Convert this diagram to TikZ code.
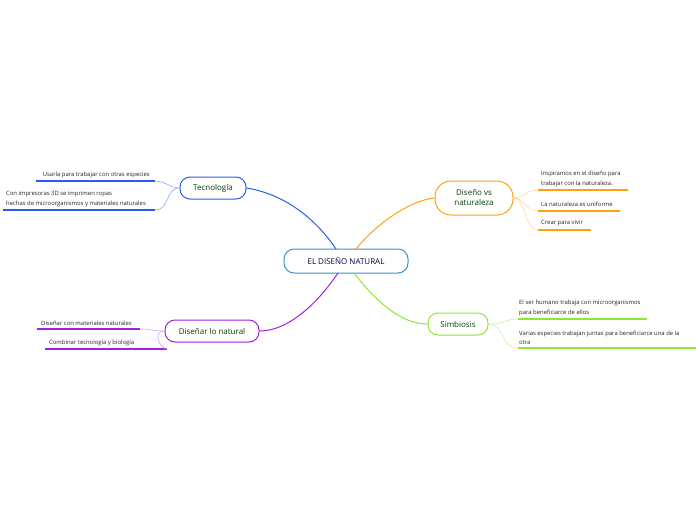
\documentclass[tikz,border=0pt]{standalone}
\usepackage{fontspec}
\setmainfont{Open Sans}
\begin{document}
\begin{tikzpicture}[x=1pt,y=-1pt,
 main/.style={draw,rounded corners=10pt,line width=1pt,fill=white,text=green!25!black,font=\fontsize{8}{10}\selectfont,align=center,inner sep=3pt},
 leaf/.style={font=\fontsize{5.9}{9.5}\selectfont,align=left,inner sep=1pt,text=black!85},
 conn/.style={line width=1pt}, sub/.style={line width=0.5pt}, ul/.style={line width=1.3pt}]
\useasboundingbox (0,0) rectangle (696,520);
\definecolor{cB}{HTML}{2A5BF0}\definecolor{cO}{HTML}{FFA010}\definecolor{cG}{HTML}{8CE830}\definecolor{cP}{HTML}{A020E0}\definecolor{cC}{HTML}{3A90D0}
% center
\node[main,draw=cC,text=blue!30!black,minimum width=124pt,minimum height=24pt] (c) at (346,261) {EL DISEÑO NATURAL};
\node[main,draw=cB,minimum width=66pt,minimum height=22pt] (t) at (213,188) {Tecnología};
\node[main,draw=cO,minimum width=78pt,minimum height=34pt,rounded corners=16pt] (d) at (474,198) {Diseño vs\\naturaleza};
\node[main,draw=cG,minimum width=60pt,minimum height=22pt] (s) at (458,324) {Simbiosis};
\node[main,draw=cP,minimum width=94pt,minimum height=22pt] (n) at (212,331) {Diseñar lo natural};
\draw[conn,cB] (336,249) .. controls (320,225) and (290,195) .. (t.east);
\draw[conn,cO] (356,249) .. controls (375,225) and (410,200) .. (d.west);
\draw[conn,cG] (354,273) .. controls (375,300) and (400,324) .. (s.west);
\draw[conn,cP] (338,273) .. controls (320,300) and (290,331) .. (n.east);
% Tecnologia leaves
\coordinate (t1a) at (36,181); \coordinate (t1b) at (155,181);
\draw[ul,cB] (t1a)--(t1b);
\node[leaf,anchor=south east] (tl1) at (151,179) {Usarla para trabajar con otras especies};
\coordinate (t2a) at (3,210); \coordinate (t2b) at (155,210);
\draw[ul,cB] (t2a)--(t2b);
\node[leaf,anchor=south west] (tl2) at (5,208) {Con impresoras 3D se imprimen ropas\\hechas de microorganismos y materiales naturales};
\draw[sub,cB!60] (t.west) .. controls (170,188) and (165,181) .. (t1b);
\draw[sub,cB!60] (t.west) .. controls (165,188) and (170,210) .. (t2b);
% Diseño leaves
\coordinate (d1a) at (538,190); \coordinate (d1b) at (628,190);
\coordinate (d2a) at (538,211); \coordinate (d2b) at (620,211);
\coordinate (d3a) at (538,230); \coordinate (d3b) at (591,230);
\draw[ul,cO] (d1a)--(d1b); \draw[ul,cO] (d2a)--(d2b); \draw[ul,cO] (d3a)--(d3b);
\node[leaf,anchor=south west] (dl1) at (540,188) {Inspiramos en el diseño para\\trabajar con la naturaleza.};
\node[leaf,anchor=south west] (dl2) at (540,208) {La naturaleza es uniforme};
\node[leaf,anchor=south west] (dl3) at (540,227) {Crear para vivir};
\draw[sub,cO!50] (d.east) .. controls (525,198) and (525,190) .. (d1a);
\draw[sub,cO!50] (d.east) .. controls (525,198) and (525,211) .. (d2a);
\draw[sub,cO!50] (d.east) .. controls (525,198) and (525,230) .. (d3a);
% Simbiosis leaves
\coordinate (s1a) at (518,319); \coordinate (s1b) at (647,319);
\coordinate (s2a) at (518,348); \coordinate (s2b) at (696,348);
\draw[ul,cG] (s1a)--(s1b); \draw[ul,cG] (s2a)--(s2b);
\node[leaf,anchor=south west] (sl1) at (518,317) {El ser humano trabaja con microorganismos\\para beneficiarce de ellos};
\node[leaf,anchor=south west] (sl2) at (518,346) {Varias especies trabajan juntas para beneficiarce una de la\\otra};
\draw[sub,cG!60] (s.east) .. controls (505,324) and (505,319) .. (s1a);
\draw[sub,cG!60] (s.east) .. controls (505,324) and (500,348) .. (s2a);
% Diseñar leaves
\coordinate (n1a) at (37,329); \coordinate (n1b) at (140,329);
\coordinate (n2a) at (45,349); \coordinate (n2b) at (167,349);
\draw[ul,cP] (n1a)--(n1b); \draw[ul,cP] (n2a)--(n2b);
\node[leaf,anchor=south west] (nl1) at (40,327) {Diseñar con materiales naturales};
\node[leaf,anchor=south west] (nl2) at (48,347) {Combinar tecnología y biología};
\draw[sub,cP!50] (n.west) .. controls (150,331) and (155,329) .. (n1b);
\draw[sub,cP!50] (n.west) .. controls (152,331) and (160,349) .. (n2b);
\end{tikzpicture}
\end{document}
